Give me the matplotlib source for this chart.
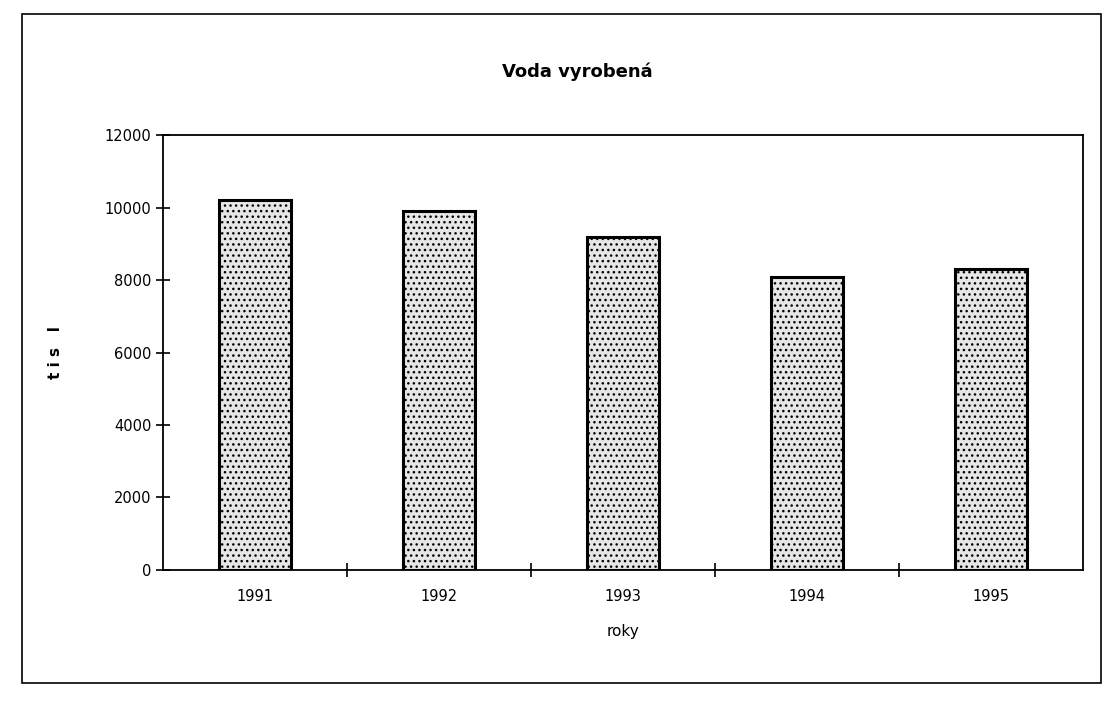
import numpy as np
import matplotlib.pyplot as plt
from matplotlib.patches import Rectangle

# data
roky = ["1991", "1992", "1993", "1994", "1995"]
voda = [10200, 9900, 9200, 8100, 8300]

fig = plt.figure(figsize=(11.1, 7.01), dpi=100)
plt.rcParams['hatch.linewidth'] = 1.0
plt.rcParams['hatch.color'] = '#444444'

# outer frame of the chart
fig.patches.append(Rectangle((0.02, 0.025), 0.972, 0.955, transform=fig.transFigure,
                             fill=False, edgecolor='black', linewidth=1.2))

ax = fig.add_axes([0.147, 0.187, 0.829, 0.62])
x = np.arange(len(roky))
bars = ax.bar(x, voda, width=0.39, color='#e6e6e6', edgecolor='black', linewidth=2.2,
              hatch='...')

ax.set_xlim(-0.5, len(roky) - 0.5)
ax.set_ylim(0, 12000)
ax.set_yticks(np.arange(0, 12001, 2000))
ax.set_xticks(x)
ax.set_xticklabels(roky)
ax.set_xticks(x[:-1] + 0.5, minor=True)
ax.tick_params(axis='x', which='major', length=0, pad=14, labelsize=10.5)
ax.tick_params(axis='x', which='minor', direction='inout', length=10, width=1.2)
ax.tick_params(axis='y', direction='inout', length=10, width=1.2, labelsize=10.5)
for s in ax.spines.values():
    s.set_linewidth(1.3)

ax.set_xlabel('roky', fontsize=11, labelpad=14)
ax.set_ylabel('t i s   l', fontsize=11, fontweight='bold', labelpad=30)
fig.text(0.52, 0.89, 'Voda vyrobená', ha='center', fontsize=13, fontweight='bold')

plt.savefig('out.png', dpi=100)
